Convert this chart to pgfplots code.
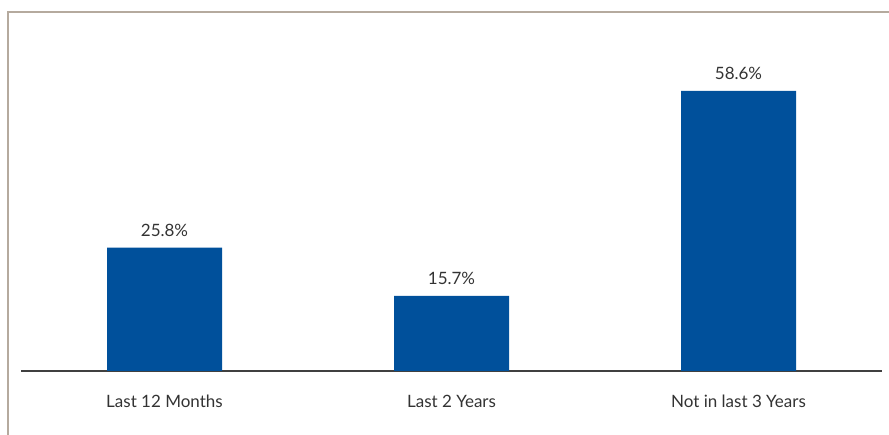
\documentclass[border=0pt]{standalone}
\usepackage{pgfplots}
\pgfplotsset{compat=1.18}
\usepackage{fontspec}
\setmainfont{Lato}
\definecolor{barblue}{RGB}{0,80,155}
\definecolor{frame}{RGB}{181,170,158}
\definecolor{txt}{RGB}{51,51,51}
\begin{document}
\begin{tikzpicture}[x=1pt,y=1pt]
\useasboundingbox (0,0) rectangle (889,435);
\draw[frame, line width=1.5pt] (8,0) -- (8,423) -- (889,423);
\begin{axis}[
  at={(21pt,64pt)}, anchor=south west,
  scale only axis,
  width=861pt, height=334.5pt,
  xmin=-0.5, xmax=2.5, ymin=0, ymax=70,
  axis x line*=bottom,
  axis y line=none,
  x axis line style={draw=black!75, line width=1.5pt, -},
  xtick=data,
  xticklabels={Last 12 Months, Last 2 Years, Not in last 3 Years},
  xtick style={draw=none},
  x tick label style={font=\fontsize{17}{20}\selectfont, text=txt, yshift=-16pt},
  /pgf/number format/assume math mode=true,
  ybar, bar width=115pt,
  nodes near coords={\pgfmathprintnumber[fixed,fixed zerofill,precision=1]{\pgfplotspointmeta}\%},
  every node near coord/.append style={font=\fontsize{17}{20}\selectfont, text=txt, yshift=8pt},
  clip=false,
]
\addplot[fill=barblue, draw=none] coordinates {(0,25.8) (1,15.7) (2,58.6)};
\end{axis}
\end{tikzpicture}
\end{document}
